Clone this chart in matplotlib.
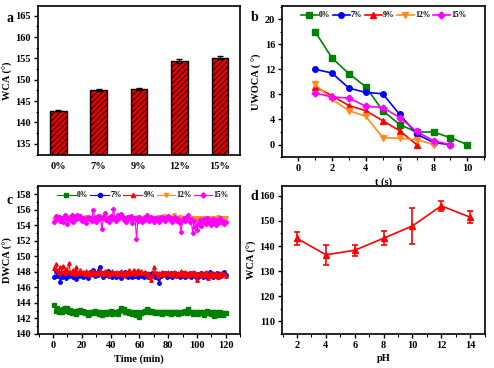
import matplotlib
matplotlib.use("Agg")
import matplotlib.pyplot as plt
from matplotlib.ticker import MultipleLocator, AutoMinorLocator
import numpy as np

plt.rcParams['font.family'] = ['Liberation Serif', 'DejaVu Serif']
plt.rcParams['font.weight'] = 'bold'
plt.rcParams['axes.labelweight'] = 'bold'
plt.rcParams['hatch.linewidth'] = 0.6

# ---------- data ----------
# (a)
a_cats = ['0%', '7%', '9%', '12%', '15%']
a_vals = [142.8, 147.6, 147.8, 154.4, 155.2]
a_err = [0.2, 0.3, 0.3, 0.4, 0.25]

# (b)
b_labels = ['0%', '7%', '9%', '12%', '15%']
b_t0 = [1, 2, 3, 4, 5, 6, 7, 8, 9, 10]
b_y0 = [18.0, 13.8, 11.3, 9.2, 5.4, 3.2, 2.0, 2.0, 1.1, 0.0]
b_t7 = [1, 2, 3, 4, 5, 6, 7, 8, 9]
b_y7 = [12.0, 11.4, 9.0, 8.3, 8.1, 4.8, 1.7, 0.3, 0.0]
b_t9 = [1, 2, 3, 4, 5, 6, 7]
b_y9 = [9.2, 7.8, 6.2, 5.4, 3.8, 2.2, 0.0]
b_t12 = [1, 2, 3, 4, 5, 6, 7, 8]
b_y12 = [9.6, 7.2, 5.4, 4.5, 1.1, 1.0, 0.8, 0.0]
b_t15 = [1, 2, 3, 4, 5, 6, 7, 8, 9]
b_y15 = [8.2, 7.6, 7.4, 6.1, 5.9, 4.3, 2.1, 0.6, 0.0]

# (c)
c_time = list(range(1, 121))
c_0 = [143.8, 143.0, 143.3, 142.9, 143.1, 142.8, 143.2, 143.4, 143.0, 143.3,
       142.9, 143.1, 142.7, 142.9, 143.0, 142.6, 143.0, 142.8, 143.1, 142.9,
       143.0, 142.7, 142.8, 142.5, 142.6, 142.9, 142.7, 142.8, 143.0, 142.7,
       142.9, 142.6, 142.8, 142.4, 142.7, 142.9, 142.6, 142.8, 142.7, 143.0,
       142.6, 142.9, 142.7, 142.8, 142.6, 143.0, 143.3, 143.1, 143.2, 142.8,
       142.9, 143.0, 142.7, 142.8, 142.6, 142.9, 142.7, 142.5, 142.8, 142.2,
       142.7, 142.9, 142.8, 143.0, 143.2, 143.1, 142.9, 142.8, 143.0, 142.9,
       142.7, 142.8, 142.9, 142.7, 142.8, 142.6, 142.9, 142.8, 142.7, 142.9,
       142.8, 142.6, 142.9, 142.7, 142.8, 142.9, 142.6, 142.8, 142.7, 142.9,
       142.8, 143.0, 142.7, 143.2, 142.8, 142.9, 142.6, 142.8, 142.7, 142.9,
       142.6, 142.8, 142.7, 142.9, 142.5, 142.8, 143.0, 142.7, 142.9, 142.6,
       142.8, 142.3, 142.9, 142.7, 142.5, 142.8, 142.6, 142.4, 142.7, 142.7]
c_7 = [147.4, 148.1, 147.5, 147.8, 146.7, 147.3, 147.9, 147.6, 147.2, 147.8,
       147.5, 147.9, 147.6, 147.4, 148.0, 147.1, 147.7, 147.5, 147.9, 147.6,
       147.3, 147.8, 147.5, 147.2, 147.6, 148.0, 147.7, 148.2, 147.5, 147.9,
       147.6, 148.3, 148.7, 147.8, 147.4, 147.9, 147.6, 148.1, 147.5, 147.7,
       147.3, 147.8, 147.6, 147.4, 147.9, 147.5, 147.2, 147.7, 147.6, 148.0,
       147.5, 147.3, 147.8, 147.6, 147.4, 147.9, 147.5, 147.7, 147.3, 147.6,
       147.8, 147.5, 147.4, 147.9, 147.6, 147.3, 147.7, 147.5, 147.8, 147.6,
       147.4, 147.7, 147.2, 146.6, 147.5, 147.8, 147.6, 147.9, 147.4, 147.7,
       147.5, 147.8, 147.3, 147.6, 147.9, 147.5, 147.7, 147.4, 147.6, 147.8,
       147.5, 147.3, 147.7, 147.6, 147.9, 147.4, 147.6, 147.8, 147.5, 147.2,
       147.7, 147.5, 147.8, 147.4, 147.6, 147.9, 147.3, 147.6, 148.0, 147.5,
       147.4, 147.7, 147.5, 147.8, 147.3, 147.6, 147.5, 147.9, 148.0, 147.6]
c_9 = [148.5, 149.0, 148.2, 147.8, 148.6, 148.0, 148.8, 147.9, 148.4, 148.1,
       149.2, 148.0, 147.8, 148.3, 147.7, 148.6, 148.0, 147.9, 148.2, 147.8,
       148.0, 147.7, 148.1, 147.9, 147.6, 148.0, 147.8, 148.1, 147.7, 147.9,
       148.0, 147.8, 148.2, 147.9, 147.7, 148.1, 147.8, 148.0, 147.6, 147.9,
       148.1, 147.8, 147.7, 148.0, 147.9, 147.7, 148.1, 147.8, 147.6, 147.9,
       148.0, 147.7, 148.2, 147.9, 147.8, 148.3, 147.7, 148.0, 148.2, 147.8,
       148.1, 147.9, 147.8, 148.0, 147.6, 147.9, 147.3, 147.0, 147.6, 148.7,
       148.0, 147.8, 147.5, 147.9, 147.7, 148.0, 147.6, 147.9, 147.8, 148.0,
       147.7, 147.9, 147.6, 148.0, 147.8, 147.5, 147.9, 147.7, 148.1, 147.8,
       147.6, 148.0, 147.8, 147.5, 147.9, 147.7, 148.0, 147.6, 147.8, 147.0,
       147.7, 147.9, 147.5, 147.8, 147.6, 148.0, 147.7, 147.2, 147.9, 147.6,
       147.8, 147.5, 147.9, 147.7, 147.4, 147.8, 147.6, 147.9, 147.7, 147.5]
c_12 = [154.8, 155.0, 154.9, 155.1, 154.8, 155.0, 154.9, 155.2, 154.8, 155.0,
        154.9, 155.1, 154.8, 155.0, 155.2, 154.9, 155.0, 154.8, 155.1, 154.9,
        155.0, 154.8, 155.1, 154.9, 155.0, 154.7, 155.0, 154.9, 155.1, 154.8,
        155.0, 154.9, 155.2, 154.8, 155.0, 154.9, 155.1, 154.8, 155.0, 154.9,
        155.1, 154.8, 155.0, 154.9, 155.2, 154.8, 155.0, 154.9, 154.7, 155.0,
        154.9, 155.1, 154.8, 155.0, 154.6, 154.9, 155.0, 154.8, 155.1, 154.9,
        155.0, 154.8, 154.9, 155.1, 154.8, 155.0, 154.7, 154.9, 155.0, 154.8,
        155.0, 154.9, 155.1, 154.8, 155.0, 154.9, 155.2, 154.8, 155.0, 154.9,
        155.1, 154.9, 155.0, 155.3, 154.9, 155.0, 154.8, 155.1, 154.9, 155.0,
        154.8, 155.0, 154.9, 155.1, 154.8, 154.7, 154.9, 155.0, 154.8, 154.9,
        154.7, 154.9, 154.8, 155.0, 154.6, 154.9, 154.8, 155.0, 154.7, 154.9,
        154.8, 155.0, 154.7, 154.9, 155.1, 154.8, 154.9, 155.0, 154.8, 154.9]
c_15 = [154.5, 155.2, 154.8, 155.1, 154.6, 155.0, 154.4, 155.3, 154.9, 154.2,
        155.0, 154.7, 155.3, 154.5, 155.1, 154.8, 155.4, 154.9, 155.2, 154.6,
        155.0, 154.7, 154.3, 155.1, 154.8, 155.0, 154.6, 156.0, 154.9, 154.5,
        155.2, 154.8, 155.0, 153.5, 155.1, 155.6, 154.7, 155.0, 154.4, 155.2,
        154.8, 156.1, 155.0, 154.6, 155.3, 154.9, 155.5, 155.2, 154.7, 155.0,
        154.5, 155.1, 154.8, 155.2, 154.3, 154.9, 155.0, 152.3, 154.6, 155.1,
        154.8, 154.5, 155.0, 154.7, 155.3, 154.9, 154.6, 155.1, 154.8, 154.4,
        155.0, 154.7, 154.9, 154.5, 155.1, 154.8, 155.0, 154.6, 154.9, 155.2,
        154.7, 155.0, 154.5, 154.9, 155.1, 154.6, 154.8, 154.3, 153.1, 154.7,
        155.0, 154.6, 154.9, 155.3, 154.5, 154.8, 153.0, 154.6, 153.8, 153.4,
        154.2, 154.7, 153.9, 154.5, 154.8, 154.2, 154.9, 154.4, 154.7, 154.1,
        154.8, 154.5, 154.0, 154.7, 154.3, 154.9, 154.4, 154.6, 154.2, 154.4]

# (d)
d_ph = [2, 4, 6, 8, 10, 12, 14]
d_wca = [143.0, 136.5, 138.3, 143.1, 148.0, 156.0, 151.5]
d_err = [2.5, 4.0, 2.3, 2.8, 7.2, 2.0, 2.3]

colors = ['#008000', '#0000ff', '#ff0000', '#ff8c1a', '#ff00ff']
markers = ['s', 'o', '^', 'v', 'D']

fig = plt.figure(figsize=(4.94, 3.68), dpi=100)
fs = 7.5
pfs = 10

def style(ax):
    for s in ax.spines.values():
        s.set_linewidth(1.2)
    ax.tick_params(axis='both', which='major', direction='out', length=3, width=1, labelsize=fs, pad=2)
    ax.tick_params(axis='both', which='minor', direction='out', length=1.8, width=0.8)
    for lab in ax.get_xticklabels() + ax.get_yticklabels():
        lab.set_fontweight('bold')

# ---- a ----
ax = fig.add_axes([0.077, 0.579, 0.409, 0.405])
x = np.arange(len(a_cats))
ax.bar(x, a_vals, width=0.41, color='#e00000', edgecolor='black', linewidth=1.0,
       hatch='//////', yerr=a_err, capsize=2, error_kw=dict(elinewidth=1, capthick=1, ecolor='black'))
ax.set_xlim(-0.5, 4.5)
ax.set_ylim(132.4, 167.3)
ax.set_xticks(x)
ax.set_xticklabels(a_cats)
ax.yaxis.set_major_locator(MultipleLocator(5))
ax.yaxis.set_minor_locator(AutoMinorLocator(2))
ax.set_ylabel('WCA (°)', fontsize=fs, labelpad=2)
style(ax)
ax.tick_params(axis='x', length=0, pad=5)
fig.text(0.014, 0.95, 'a', fontsize=pfs, fontweight='bold', va='center')

# ---- b ----
ax = fig.add_axes([0.571, 0.573, 0.411, 0.411])
b_ts = [b_t0, b_t7, b_t9, b_t12, b_t15]
b_ys = [b_y0, b_y7, b_y9, b_y12, b_y15]
for t, y, c, m, l in zip(b_ts, b_ys, colors, markers, b_labels):
    ax.plot(t, y, color=c, marker=m, markersize=4 if m != 'D' else 3.5, linewidth=1.2, label=l)
ax.set_xlim(-0.95, 11.05)
ax.set_ylim(-2, 22.1)
ax.xaxis.set_major_locator(MultipleLocator(2))
ax.xaxis.set_minor_locator(AutoMinorLocator(2))
ax.yaxis.set_major_locator(MultipleLocator(4))
ax.yaxis.set_minor_locator(AutoMinorLocator(2))
ax.set_xlabel('t (s)', fontsize=fs, labelpad=3)
ax.set_ylabel('UWOCA ( °)', fontsize=fs, labelpad=2)
style(ax)
ax.legend(loc='upper center', ncol=5, frameon=False, fontsize=5.5,
          handlelength=2.2, handletextpad=0.2, columnspacing=0.3,
          borderaxespad=0.3, bbox_to_anchor=(0.5, 1.0))
fig.text(0.508, 0.952, 'b', fontsize=pfs, fontweight='bold', va='center')

# ---- c ----
ax = fig.add_axes([0.077, 0.0924, 0.409, 0.4026])
c_series = [c_0, c_7, c_9, c_12, c_15]
for i in range(5):
    ax.plot(c_time, c_series[i], color=colors[i], marker=markers[i],
            markersize=2.5 if markers[i] != 'D' else 2.2, linewidth=0.8, label=b_labels[i])
ax.set_xlim(-10.4, 130)
ax.set_ylim(140, 159.1)
ax.xaxis.set_major_locator(MultipleLocator(20))
ax.xaxis.set_minor_locator(AutoMinorLocator(2))
ax.yaxis.set_major_locator(MultipleLocator(2))
ax.yaxis.set_minor_locator(AutoMinorLocator(2))
ax.set_xlabel('Time (min)', fontsize=fs, labelpad=3)
ax.set_ylabel('DWCA (°)', fontsize=fs, labelpad=2)
style(ax)
ax.legend(loc='upper center', ncol=5, frameon=False, fontsize=5.5,
          handlelength=2.4, handletextpad=0.2, columnspacing=0.25,
          borderaxespad=0.3, bbox_to_anchor=(0.52, 1.0), markerscale=1.2)
fig.text(0.014, 0.455, 'c', fontsize=pfs, fontweight='bold', va='center')

# ---- d ----
ax = fig.add_axes([0.571, 0.0924, 0.411, 0.4026])
ax.errorbar(d_ph, d_wca, yerr=d_err, color='#ff0000', marker='^', markersize=4.5,
            linewidth=1.2, elinewidth=1.2, capsize=2.5, capthick=1.2)
ax.set_xlim(0.96, 15.04)
ax.set_ylim(104.9, 164)
ax.xaxis.set_major_locator(MultipleLocator(2))
ax.xaxis.set_minor_locator(AutoMinorLocator(2))
ax.yaxis.set_major_locator(MultipleLocator(10))
ax.yaxis.set_minor_locator(AutoMinorLocator(2))
ax.set_xlabel('pH', fontsize=fs, labelpad=3)
ax.set_ylabel('WCA (°)', fontsize=fs, labelpad=2)
style(ax)
fig.text(0.508, 0.466, 'd', fontsize=pfs, fontweight='bold', va='center')

fig.savefig('out.png', dpi=100)
